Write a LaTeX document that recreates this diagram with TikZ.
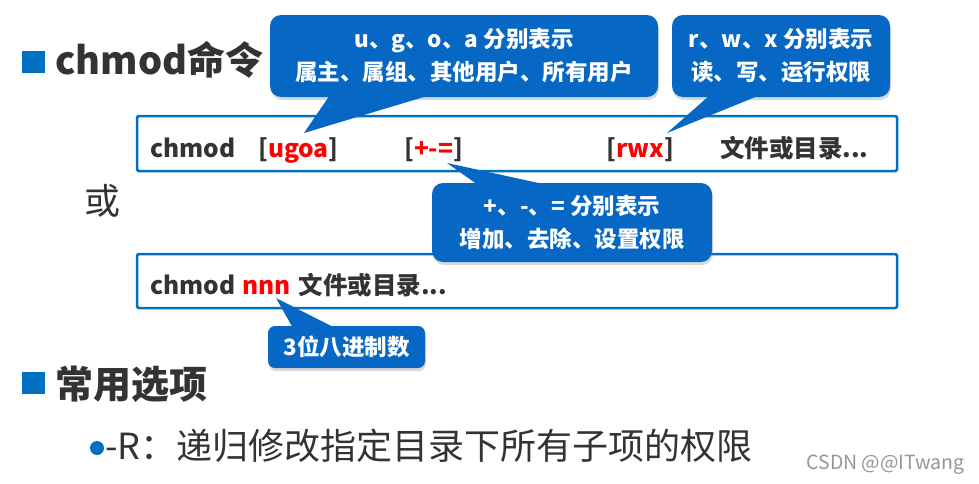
\documentclass[tikz,border=0pt]{standalone}
\usepackage{fontspec}
\setmainfont{Noto Sans CJK SC}
\usetikzlibrary{calc,positioning,shadows}
\definecolor{SlideBlue}{RGB}{0,112,192}
\definecolor{TipBlue}{RGB}{6,104,196}
\definecolor{InkGray}{RGB}{51,51,51}
\definecolor{MarkGray}{RGB}{150,150,150}
\newcommand{\optarg}[1]{[\textcolor{red}{#1}]}

\begin{document}
\begin{tikzpicture}[x=1pt,y=-1pt,
    cmdbox/.style={draw=SlideBlue,line width=2.5pt,fill=white,rounded corners=1.5pt,
      minimum width=760pt,inner sep=0pt},
    tipbox/.style={fill=TipBlue,rounded corners=11pt,text=white,align=center,inner sep=0pt,
      font=\bfseries\fontsize{22.5}{33}\selectfont,
      drop shadow={shadow xshift=1pt,shadow yshift=-3pt,opacity=0.3}},
    cmdtext/.style={anchor=base west,inner sep=0pt,text=InkGray,font=\bfseries\fontsize{24.5}{28}\selectfont},
    heading/.style={anchor=base west,inner sep=0pt,text=InkGray,font=\bfseries\fontsize{38}{42}\selectfont},
    plain/.style={anchor=base west,inner sep=0pt,text=InkGray,font=\fontsize{36}{40}\selectfont}]
  \useasboundingbox (0,0) rectangle (979,483);

  % heading
  \fill[SlideBlue] (22,51) rectangle (45,73);
  \node[heading] (title) at (55,74) {chmod命令};

  % the two forms
  \node[cmdbox,minimum height=55pt] (form1) at (517,143.5) {};
  \node[cmdbox,minimum height=54pt] (form2) at (517,281) {};

  \node[cmdtext] (cmd) at (150,157) {chmod};
  \node[cmdtext] (who) at (258,157) {\optarg{ugoa}};
  \node[cmdtext] (op) at (404,157) {\optarg{+-=}};
  \node[cmdtext] (perm) at (606,157) {\optarg{rwx}};
  \node[cmdtext] (target) at (720,157) {文件或目录...};

  \node[plain] (alt) at (84,214) {或};

  \node[cmdtext] (cmd2) at (150,294) {chmod};
  \node[cmdtext,base right=7pt of cmd2,text=red] (digits) {nnn};
  \node[cmdtext,base right=7pt of digits] (target2) {文件或目录...};

  % callouts
  \coordinate (tip1) at (304,133);
  \coordinate (tip2) at (667,133);
  \coordinate (tip3) at (447,163);
  \coordinate (tip4) at (276,298);

  \node[tipbox,minimum width=388pt,minimum height=82pt] (who note) at (464,56)
    {u、g、o、a 分别表示\\属主、属组、其他用户、所有用户};
  \fill[TipBlue] ($(who note.south west)+(60,-2)$) -- (tip1) -- ($(who note.south west)+(160,-2)$) -- cycle;

  \node[tipbox,minimum width=218pt,minimum height=82pt] (perm note) at (781,56)
    {r、w、x 分别表示\\读、写、运行权限};
  \fill[TipBlue] ($(perm note.south west)+(38,-2)$) -- (tip2) -- ($(perm note.south west)+(88,-2)$) -- cycle;

  \node[tipbox,minimum width=280pt,minimum height=79pt] (op note) at (572,222.5)
    {+、-、= 分别表示\\增加、去除、设置权限};
  \fill[TipBlue] ($(op note.north west)+(46,2)$) -- (tip3) -- ($(op note.north west)+(115,2)$) -- cycle;

  \node[tipbox,rounded corners=7pt,minimum width=157pt,minimum height=42pt] (digits note) at (346.5,347)
    {3位八进制数};
  \fill[TipBlue] ($(digits note.north west)+(25,2)$) -- (tip4) -- ($(digits note.north west)+(67,2)$) -- cycle;

  % options
  \fill[SlideBlue] (22,372) rectangle (45,394);
  \node[heading] (options) at (55,398) {常用选项};
  \fill[SlideBlue] (97,448) circle (7);
  \node[plain] (recurse) at (105,459) {-R：递归修改指定目录下所有子项的权限};

  \node[anchor=base east,inner sep=0pt,text=MarkGray,font=\fontsize{19.5}{22}\selectfont] (mark) at (965,469) {CSDN @@ITwang};
\end{tikzpicture}
\end{document}
